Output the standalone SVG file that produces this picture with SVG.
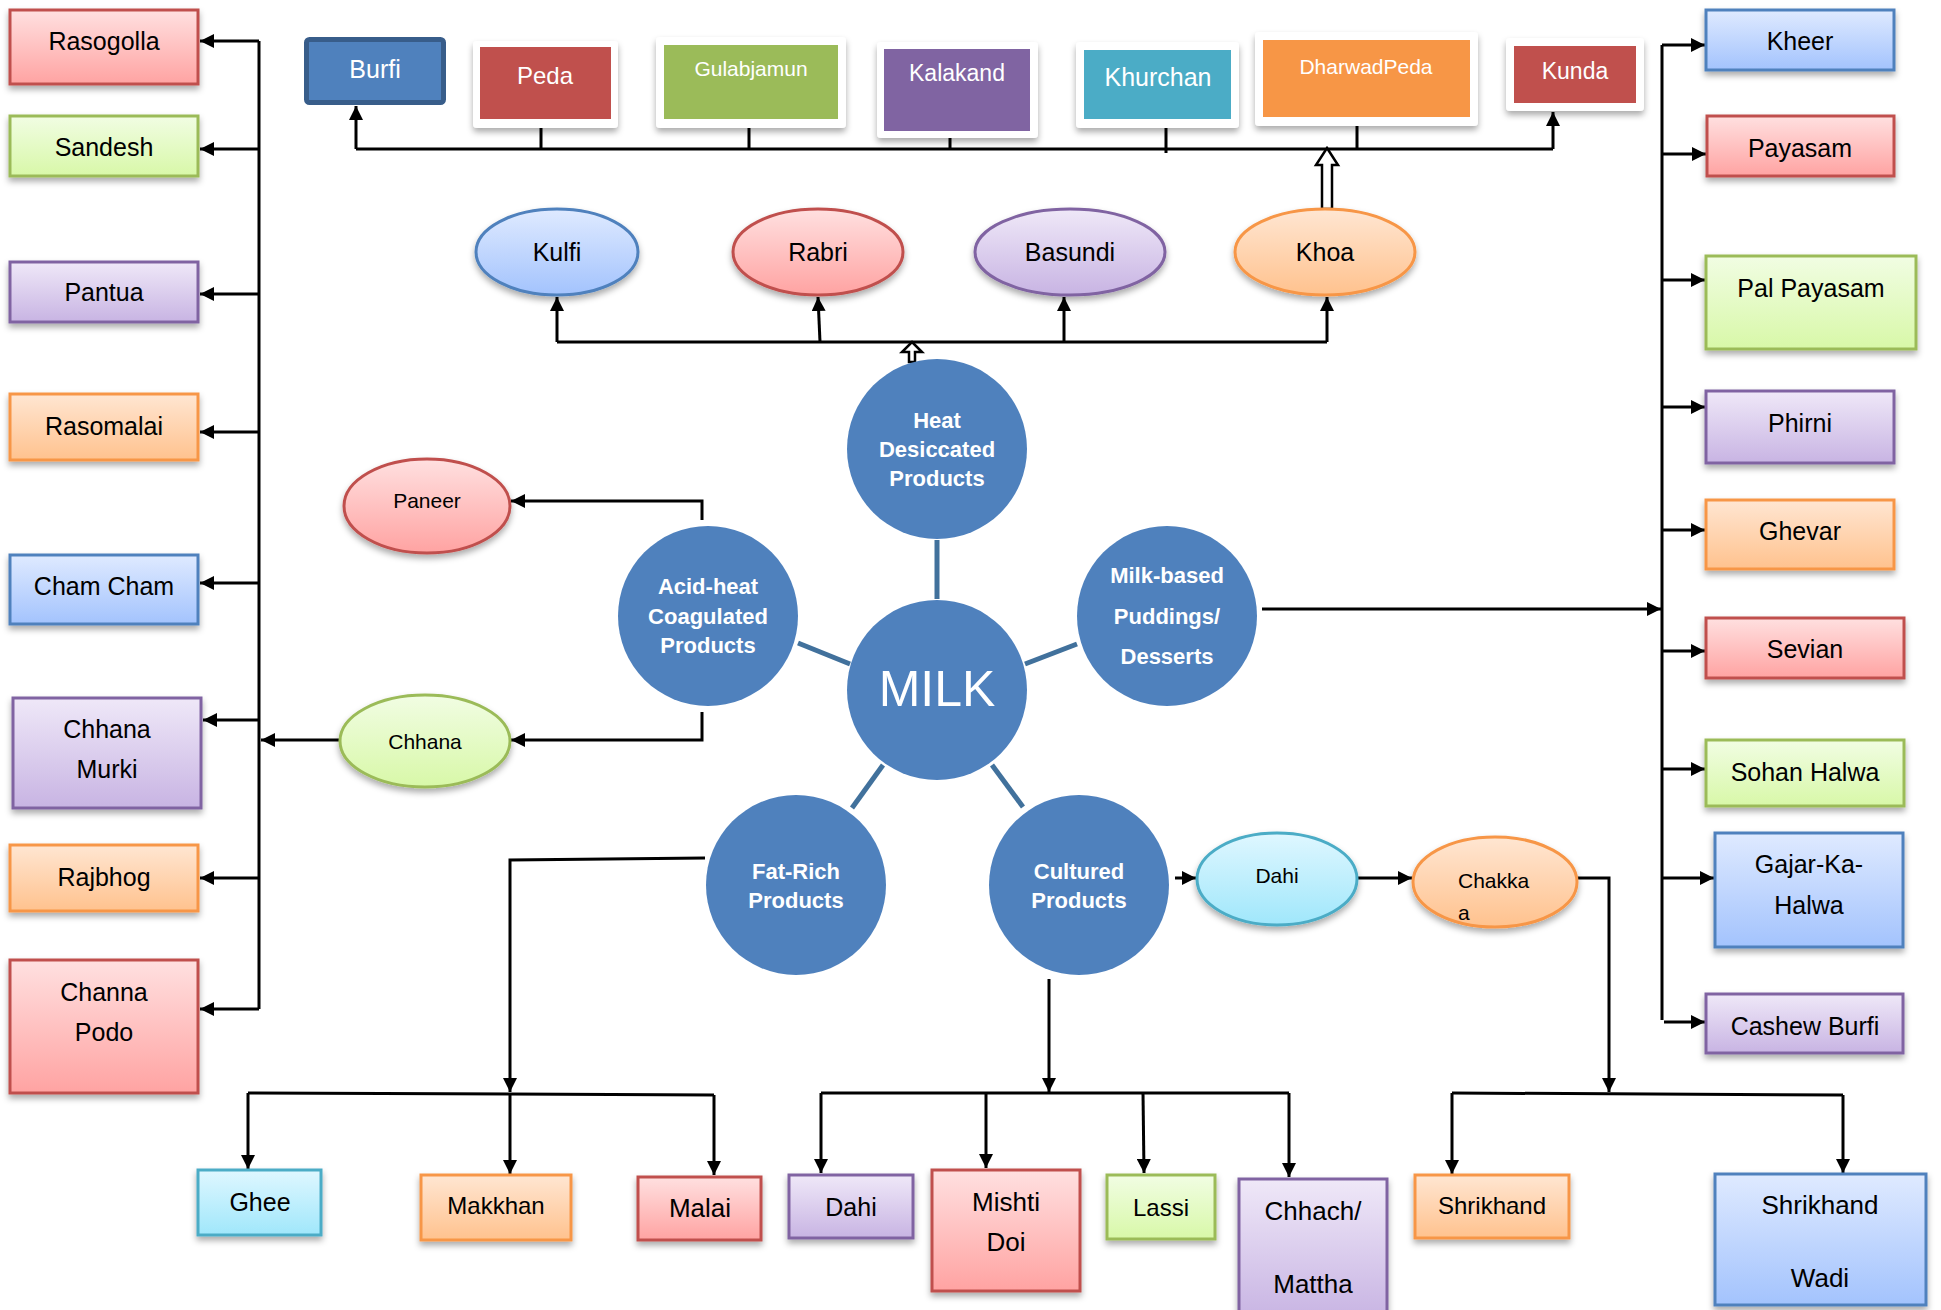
<svg xmlns="http://www.w3.org/2000/svg" width="1941" height="1310" viewBox="0 0 1941 1310">
<defs>
<linearGradient id="gRed" x1="0" y1="0" x2="0" y2="1"><stop offset="0" stop-color="#FFE0E0"/><stop offset="1" stop-color="#FFA3A2"/></linearGradient>
<linearGradient id="gGreen" x1="0" y1="0" x2="0" y2="1"><stop offset="0" stop-color="#F1FDE3"/><stop offset="1" stop-color="#D8F8A8"/></linearGradient>
<linearGradient id="gPurple" x1="0" y1="0" x2="0" y2="1"><stop offset="0" stop-color="#EFE8F8"/><stop offset="1" stop-color="#C8B4E3"/></linearGradient>
<linearGradient id="gOrange" x1="0" y1="0" x2="0" y2="1"><stop offset="0" stop-color="#FFE6D2"/><stop offset="1" stop-color="#FFC28E"/></linearGradient>
<linearGradient id="gBlue" x1="0" y1="0" x2="0" y2="1"><stop offset="0" stop-color="#DFEAFF"/><stop offset="1" stop-color="#A3C3FD"/></linearGradient>
<linearGradient id="gCyan" x1="0" y1="0" x2="0" y2="1"><stop offset="0" stop-color="#DFF7FF"/><stop offset="1" stop-color="#A0E7FB"/></linearGradient>
<filter id="sh" x="-20%" y="-20%" width="140%" height="150%"><feDropShadow dx="0" dy="4" stdDeviation="3" flood-color="#000" flood-opacity="0.33"/></filter>
<marker id="ah" markerWidth="14" markerHeight="14" refX="14" refY="7" orient="auto" markerUnits="userSpaceOnUse"><path d="M0,0 L14,7 L0,14 z" fill="#000"/></marker>
<style>
text{font-family:"Liberation Sans",Arial,sans-serif;text-anchor:middle;dominant-baseline:central;fill:#000}
.lbl{font-size:25px}
.sm{font-size:21px}
.wt{fill:#fff;font-size:23px}
.ct{fill:#fff;font-size:22px;font-weight:bold}
.box{stroke-width:3;filter:url(#sh)}
.red{fill:url(#gRed);stroke:#C0504D}
.green{fill:url(#gGreen);stroke:#9BBB59}
.purple{fill:url(#gPurple);stroke:#8064A2}
.orange{fill:url(#gOrange);stroke:#F79646}
.blue{fill:url(#gBlue);stroke:#4F81BD}
.cyan{fill:url(#gCyan);stroke:#4BACC6}
.frame{fill:#fff;filter:url(#sh)}
.circ{fill:#4F81BD}
.ln{fill:none;stroke:#000;stroke-width:3}
.ar{marker-end:url(#ah)}
.bl{stroke:#41719C;stroke-width:5;fill:none}
.hol{fill:#fff;stroke:#000;stroke-width:2.5}
</style>
</defs>
<rect width="1941" height="1310" fill="#fff"/>

<g id="connectors">
<!-- left bus -->
<path class="ln" d="M259,41 V1009"/>
<path class="ln ar" d="M259,41 H200"/>
<path class="ln ar" d="M259,149 H200"/>
<path class="ln ar" d="M259,294 H200"/>
<path class="ln ar" d="M259,432 H200"/>
<path class="ln ar" d="M259,583 H200"/>
<path class="ln ar" d="M259,720 H203"/>
<path class="ln ar" d="M259,878 H200"/>
<path class="ln ar" d="M259,1009 H200"/>
<path class="ln ar" d="M340,740 H261"/>
<path class="ln ar" d="M702,520 V501 H511"/>
<path class="ln ar" d="M702,712 V740 H511"/>
<!-- top bus -->
<path class="ln" d="M356,149 H1553"/>
<path class="ln ar" d="M356,149 V106"/>
<path class="ln ar" d="M1553,149 V112"/>
<path class="ln" d="M541,128 V149 M749,128 V149 M950,138 V149 M1166,128 V153 M1357,126 V149"/>
<polygon class="hol" points="1327,148 1338,165 1332,165 1332,209 1322,209 1322,165 1316,165"/>
<!-- heat desiccated bus -->
<path class="ln" d="M557,342 H1327"/>
<path class="ln ar" d="M557,342 V297"/>
<path class="ln ar" d="M820,342 L818,297"/>
<path class="ln ar" d="M1064,342 V297"/>
<path class="ln ar" d="M1327,342 V297"/>
<polygon class="hol" points="912,342 922,352 915,352 915,362 909,362 909,352 902,352"/>
<!-- right bus -->
<path class="ln" d="M1662,45 V1020"/>
<path class="ln ar" d="M1662,45 H1705"/>
<path class="ln ar" d="M1662,154 H1706"/>
<path class="ln ar" d="M1662,280 H1705"/>
<path class="ln ar" d="M1662,407 H1705"/>
<path class="ln ar" d="M1662,530 H1705"/>
<path class="ln ar" d="M1662,651 H1705"/>
<path class="ln ar" d="M1662,769 H1705"/>
<path class="ln ar" d="M1662,878 H1714"/>
<path class="ln ar" d="M1664,1022 H1705"/>
<path class="ln ar" d="M1262,609 H1661"/>
<!-- fat-rich -->
<path class="ln ar" d="M705,858 L510,860 V1092"/>
<path class="ln" d="M248,1093 L714,1095"/>
<path class="ln ar" d="M248,1093 V1169"/>
<path class="ln ar" d="M510,1093 V1174"/>
<path class="ln ar" d="M714,1095 V1175"/>
<!-- cultured -->
<path class="ln ar" d="M1175,878 H1196"/>
<path class="ln ar" d="M1049,979 V1092"/>
<path class="ln" d="M821,1093 H1289"/>
<path class="ln ar" d="M821,1093 V1173"/>
<path class="ln ar" d="M986,1093 V1168"/>
<path class="ln ar" d="M1143,1093 L1144,1173"/>
<path class="ln ar" d="M1289,1093 V1177"/>
<path class="ln ar" d="M1357,878 H1412"/>
<path class="ln ar" d="M1578,878 H1609 V1092"/>
<path class="ln" d="M1452,1093 L1843,1095"/>
<path class="ln ar" d="M1452,1093 V1174"/>
<path class="ln ar" d="M1843,1095 V1173"/>
<!-- blue spokes -->
<path class="bl" d="M937,540 V599"/>
<path class="bl" d="M798,643 L850,664"/>
<path class="bl" d="M1077,644 L1025,664"/>
<path class="bl" d="M883,765 L852,808"/>
<path class="bl" d="M992,765 L1023,807"/>
</g>

<!-- left column -->
<g id="n-rasogolla"><rect class="box red" x="10" y="10" width="188" height="74"/><text class="lbl" x="104" y="41">Rasogolla</text></g>
<g id="n-sandesh"><rect class="box green" x="10" y="116" width="188" height="60"/><text class="lbl" x="104" y="147">Sandesh</text></g>
<g id="n-pantua"><rect class="box purple" x="10" y="262" width="188" height="60"/><text class="lbl" x="104" y="292">Pantua</text></g>
<g id="n-rasomalai"><rect class="box orange" x="10" y="394" width="188" height="66"/><text class="lbl" x="104" y="426">Rasomalai</text></g>
<g id="n-chamcham"><rect class="box blue" x="10" y="555" width="188" height="69"/><text class="lbl" x="104" y="586">Cham Cham</text></g>
<g id="n-chhanamurki"><rect class="box purple" x="13" y="698" width="188" height="110"/><text class="lbl" x="107" y="729">Chhana</text><text class="lbl" x="107" y="769">Murki</text></g>
<g id="n-rajbhog"><rect class="box orange" x="10" y="845" width="188" height="66"/><text class="lbl" x="104" y="877">Rajbhog</text></g>
<g id="n-channapodo"><rect class="box red" x="10" y="960" width="188" height="133"/><text class="lbl" x="104" y="992">Channa</text><text class="lbl" x="104" y="1032">Podo</text></g>

<!-- top row -->
<g id="n-burfi"><rect x="306.5" y="39.5" width="137" height="63" rx="3" fill="#4F81BD" stroke="#385D8A" stroke-width="5"/><text class="wt" x="375" y="69" style="font-size:25px">Burfi</text></g>
<g id="n-peda"><rect class="frame" x="473" y="41" width="145" height="87" rx="4"/><rect x="480" y="47" width="131" height="72" fill="#C0504D"/><text class="wt" x="545" y="75" style="font-size:24px">Peda</text></g>
<g id="n-gulabjamun"><rect class="frame" x="656" y="37" width="190" height="91" rx="4"/><rect x="664" y="45" width="174" height="74" fill="#9BBB59"/><text class="wt" x="751" y="68" style="font-size:21px">Gulabjamun</text></g>
<g id="n-kalakand"><rect class="frame" x="877" y="42" width="161" height="96" rx="4"/><rect x="884" y="49" width="146" height="82" fill="#8064A2"/><text class="wt" x="957" y="73">Kalakand</text></g>
<g id="n-khurchan"><rect class="frame" x="1076" y="42" width="163" height="86" rx="4"/><rect x="1084" y="50" width="147" height="69" fill="#4BACC6"/><text class="wt" x="1158" y="77" style="font-size:25px">Khurchan</text></g>
<g id="n-dharwadpeda"><rect class="frame" x="1255" y="32" width="223" height="94" rx="4"/><rect x="1263" y="40" width="207" height="77" fill="#F79646"/><text class="wt" x="1366" y="66" style="font-size:21px">DharwadPeda</text></g>
<g id="n-kunda"><rect class="frame" x="1506" y="38" width="138" height="73" rx="4"/><rect x="1514" y="46" width="122" height="57" fill="#C0504D"/><text class="wt" x="1575" y="71">Kunda</text></g>

<!-- heat desiccated products -->
<g id="n-kulfi"><ellipse class="box blue" cx="557" cy="252" rx="81" ry="43"/><text class="lbl" x="557" y="252">Kulfi</text></g>
<g id="n-rabri"><ellipse class="box red" cx="818" cy="252" rx="85" ry="43"/><text class="lbl" x="818" y="252">Rabri</text></g>
<g id="n-basundi"><ellipse class="box purple" cx="1070" cy="252" rx="95" ry="43"/><text class="lbl" x="1070" y="252">Basundi</text></g>
<g id="n-khoa"><ellipse class="box orange" cx="1325" cy="252" rx="90" ry="43"/><text class="lbl" x="1325" y="252">Khoa</text></g>

<!-- acid heat -->
<g id="n-paneer"><ellipse class="box red" cx="427" cy="506" rx="83" ry="47"/><text class="sm" x="427" y="500">Paneer</text></g>
<g id="n-chhana"><ellipse class="box green" cx="425" cy="741" rx="85" ry="46"/><text class="sm" x="425" y="741">Chhana</text></g>

<!-- circles -->
<g id="n-heat"><circle class="circ" cx="937" cy="449" r="90"/><text class="ct" x="937" y="420">Heat</text><text class="ct" x="937" y="449">Desiccated</text><text class="ct" x="937" y="478">Products</text></g>
<g id="n-milk"><circle class="circ" cx="937" cy="690" r="90"/><text x="937" y="689" style="fill:#fff;font-size:50px">MILK</text></g>
<g id="n-acid"><circle class="circ" cx="708" cy="616" r="90"/><text class="ct" x="708" y="586">Acid-heat</text><text class="ct" x="708" y="616">Coagulated</text><text class="ct" x="708" y="645">Products</text></g>
<g id="n-milkbased"><circle class="circ" cx="1167" cy="616" r="90"/><text class="ct" x="1167" y="575">Milk-based</text><text class="ct" x="1167" y="616">Puddings/</text><text class="ct" x="1167" y="656">Desserts</text></g>
<g id="n-fatrich"><circle class="circ" cx="796" cy="885" r="90"/><text class="ct" x="796" y="871">Fat-Rich</text><text class="ct" x="796" y="900">Products</text></g>
<g id="n-cultured"><circle class="circ" cx="1079" cy="885" r="90"/><text class="ct" x="1079" y="871">Cultured</text><text class="ct" x="1079" y="900">Products</text></g>

<!-- cultured chain -->
<g id="n-dahi-e"><ellipse class="box cyan" cx="1277" cy="879" rx="80" ry="46"/><text class="sm" x="1277" y="875">Dahi</text></g>
<g id="n-chakka"><ellipse class="box orange" cx="1495" cy="882" rx="82" ry="45"/><text class="sm" x="1458" y="880" style="text-anchor:start">Chakka</text><text class="sm" x="1458" y="912" style="text-anchor:start">a</text></g>

<!-- right column -->
<g id="n-kheer"><rect class="box blue" x="1706" y="10" width="188" height="60"/><text class="lbl" x="1800" y="41">Kheer</text></g>
<g id="n-payasam"><rect class="box red" x="1707" y="116" width="187" height="60"/><text class="lbl" x="1800" y="148">Payasam</text></g>
<g id="n-palpayasam"><rect class="box green" x="1706" y="256" width="210" height="93"/><text class="lbl" x="1811" y="288">Pal Payasam</text></g>
<g id="n-phirni"><rect class="box purple" x="1706" y="391" width="188" height="72"/><text class="lbl" x="1800" y="423">Phirni</text></g>
<g id="n-ghevar"><rect class="box orange" x="1706" y="500" width="188" height="69"/><text class="lbl" x="1800" y="531">Ghevar</text></g>
<g id="n-sevian"><rect class="box red" x="1706" y="618" width="198" height="60"/><text class="lbl" x="1805" y="649">Sevian</text></g>
<g id="n-sohanhalwa"><rect class="box green" x="1706" y="740" width="198" height="66"/><text class="lbl" x="1805" y="772">Sohan Halwa</text></g>
<g id="n-gajar"><rect class="box blue" x="1715" y="833" width="188" height="114"/><text class="lbl" x="1809" y="864">Gajar-Ka-</text><text class="lbl" x="1809" y="905">Halwa</text></g>
<g id="n-cashewburfi"><rect class="box purple" x="1706" y="994" width="197" height="59"/><text class="lbl" x="1805" y="1026">Cashew Burfi</text></g>

<!-- bottom row -->
<g id="n-ghee"><rect class="box cyan" x="198" y="1170" width="123" height="65"/><text class="lbl" x="260" y="1202">Ghee</text></g>
<g id="n-makkhan"><rect class="box orange" x="421" y="1175" width="150" height="65"/><text class="lbl" x="496" y="1205" style="font-size:24px">Makkhan</text></g>
<g id="n-malai"><rect class="box red" x="638" y="1177" width="123" height="63"/><text class="lbl" x="700" y="1208" style="font-size:26px">Malai</text></g>
<g id="n-dahi"><rect class="box purple" x="789" y="1175" width="124" height="63"/><text class="lbl" x="851" y="1207">Dahi</text></g>
<g id="n-mishtidoi"><rect class="box red" x="932" y="1170" width="148" height="121"/><text class="lbl" x="1006" y="1202" style="font-size:26px">Mishti</text><text class="lbl" x="1006" y="1242" style="font-size:26px">Doi</text></g>
<g id="n-lassi"><rect class="box green" x="1107" y="1175" width="108" height="64"/><text class="lbl" x="1161" y="1207" style="font-size:24px">Lassi</text></g>
<g id="n-chhach"><rect class="box purple" x="1239" y="1179" width="148" height="140"/><text class="lbl" x="1313" y="1211" style="font-size:26px">Chhach/</text><text class="lbl" x="1313" y="1284" style="font-size:26px">Mattha</text></g>
<g id="n-shrikhand"><rect class="box orange" x="1415" y="1175" width="154" height="63"/><text class="lbl" x="1492" y="1205" style="font-size:24px">Shrikhand</text></g>
<g id="n-shrikhandwadi"><rect class="box blue" x="1715" y="1174" width="211" height="131"/><text class="lbl" x="1820" y="1205" style="font-size:26px">Shrikhand</text><text class="lbl" x="1820" y="1278" style="font-size:26px">Wadi</text></g>
</svg>
